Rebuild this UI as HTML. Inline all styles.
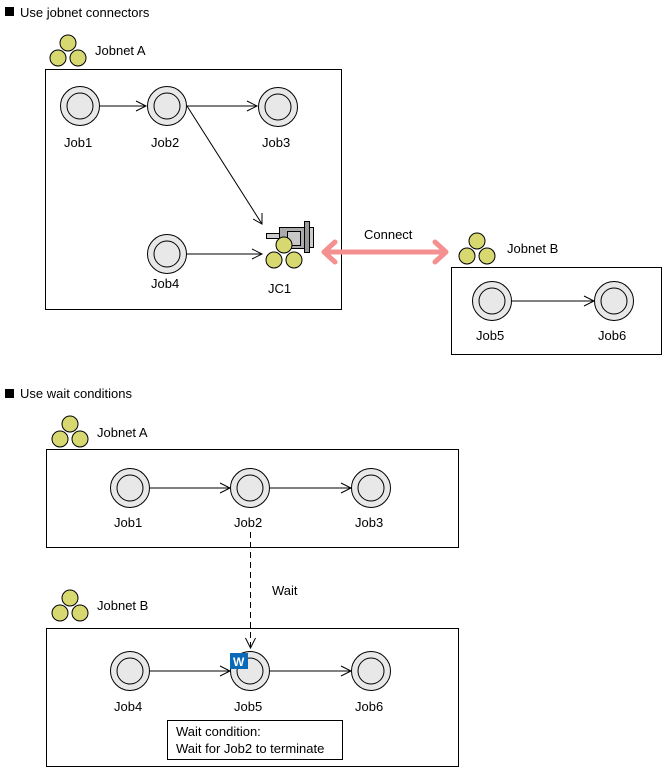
<!DOCTYPE html>
<html><head><style>
html,body{margin:0;padding:0;background:#fff;}
svg{display:block;}
text{font-family:"Liberation Sans",Arial,sans-serif;font-size:13px;fill:#000;}
</style></head><body>
<svg width="665" height="771" viewBox="0 0 665 771" xmlns="http://www.w3.org/2000/svg">
<defs>
<g id="job"><circle r="19.5" fill="#e8e8e8" stroke="#000" stroke-width="1"/><circle r="13" fill="#e8e8e8" stroke="#000" stroke-width="1"/></g>
<g id="jn" stroke="#000" stroke-width="1" fill="#d8d870"><circle cx="0" cy="-7" r="8"/><circle cx="-10" cy="8" r="8"/><circle cx="10" cy="8" r="8"/></g>
<path id="ah" d="M-10,-5 L0,0 L-10,5" fill="none" stroke="#000"/>
</defs>

<!-- Section 1 -->
<rect x="5" y="7" width="9" height="9" fill="#000"/>
<text x="20" y="17">Use jobnet connectors</text>
<use href="#jn" x="68" y="50"/>
<text x="95" y="55">Jobnet A</text>
<rect x="45.5" y="69.5" width="296" height="240" fill="none" stroke="#000"/>

<g stroke="#000" fill="none">
<line x1="100" y1="106" x2="146" y2="106"/>
<line x1="187" y1="106" x2="257" y2="106"/>
<line x1="187" y1="106" x2="262" y2="224"/>
<line x1="187" y1="254" x2="262" y2="254"/>
</g>
<use href="#ah" x="146" y="106"/>
<use href="#ah" x="257" y="106"/>
<use href="#ah" x="262" y="254"/>
<path d="M253,219 L262,224 L262,213" fill="none" stroke="#000"/>
<use href="#job" x="80" y="106"/>
<use href="#job" x="167" y="106"/>
<use href="#job" x="278" y="107"/>
<use href="#job" x="167" y="254"/>
<text x="64" y="147">Job1</text>
<text x="151" y="147">Job2</text>
<text x="262" y="147">Job3</text>
<text x="151" y="288">Job4</text>

<!-- JC1 -->
<rect x="266.5" y="233.5" width="13" height="5" fill="#ccc" stroke="#000"/>
<rect x="279.5" y="227.5" width="25" height="21" fill="#aaa" stroke="#000"/>
<rect x="287.5" y="231.5" width="13" height="14" fill="#c8c8c8" stroke="#000"/>
<rect x="304.5" y="221.5" width="5" height="31" fill="#999" stroke="#000"/>
<rect x="309.5" y="227.5" width="4" height="20" fill="#ccc" stroke="#000"/>
<use href="#jn" x="284" y="252"/>
<text x="268" y="293">JC1</text>

<!-- Connect -->
<g stroke="#f4908f" stroke-width="5" fill="none" stroke-linecap="round" stroke-linejoin="round">
<line x1="325" y1="252" x2="445" y2="252"/>
<path d="M335,242 L324,252 L335,262"/>
<path d="M435,242 L446,252 L435,262"/>
</g>
<text x="364" y="239">Connect</text>

<use href="#jn" x="477" y="248"/>
<text x="507" y="253">Jobnet B</text>
<rect x="451.5" y="267.5" width="210" height="87" fill="none" stroke="#000"/>
<line x1="512" y1="301" x2="594" y2="301" stroke="#000"/>
<use href="#ah" x="594" y="301"/>
<use href="#job" x="492" y="301"/>
<use href="#job" x="614" y="301"/>
<text x="476" y="340">Job5</text>
<text x="598" y="340">Job6</text>

<!-- Section 2 -->
<rect x="5" y="389" width="9" height="9" fill="#000"/>
<text x="20" y="398">Use wait conditions</text>
<use href="#jn" x="70" y="431"/>
<text x="97" y="437">Jobnet A</text>
<rect x="46.5" y="449.5" width="412" height="98" fill="none" stroke="#000"/>
<line x1="150" y1="488" x2="230" y2="488" stroke="#000"/>
<line x1="270" y1="488" x2="351" y2="488" stroke="#000"/>
<use href="#ah" x="230" y="488"/>
<use href="#ah" x="351" y="488"/>
<use href="#job" x="130" y="488"/>
<use href="#job" x="250" y="488"/>
<use href="#job" x="371" y="488"/>
<text x="114" y="527">Job1</text>
<text x="234" y="527">Job2</text>
<text x="355" y="527">Job3</text>

<line x1="250.5" y1="532" x2="250.5" y2="648" stroke="#000" stroke-dasharray="6,4"/>
<path d="M245.5,638 L250.5,648 L255.5,638" fill="none" stroke="#000"/>
<text x="272" y="595">Wait</text>

<use href="#jn" x="70" y="605"/>
<text x="97" y="610">Jobnet B</text>
<rect x="46.5" y="628.5" width="412" height="138" fill="none" stroke="#000"/>
<line x1="150" y1="671" x2="230" y2="671" stroke="#000"/>
<line x1="270" y1="671" x2="351" y2="671" stroke="#000"/>
<use href="#ah" x="230" y="671"/>
<use href="#ah" x="351" y="671"/>
<use href="#job" x="130" y="671"/>
<use href="#job" x="250" y="671"/>
<use href="#job" x="371" y="671"/>
<rect x="230" y="653" width="18" height="16" fill="#0a6ab8"/>
<text x="233" y="666" style="fill:#fff;font-weight:bold;font-size:12px">W</text>
<text x="114" y="711">Job4</text>
<text x="234" y="711">Job5</text>
<text x="355" y="711">Job6</text>
<rect x="167.5" y="720.5" width="175" height="39" fill="#fff" stroke="#000"/>
<text x="176" y="736">Wait condition:</text>
<text x="176" y="753">Wait for Job2 to terminate</text>
</svg>
</body></html>
